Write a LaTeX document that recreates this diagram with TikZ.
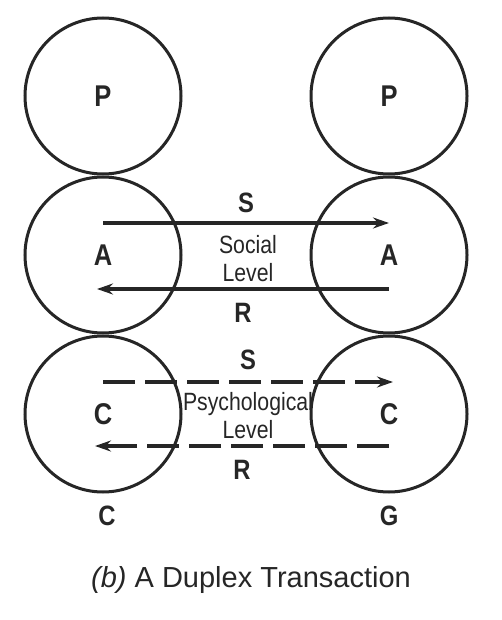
\documentclass[tikz,border=0pt]{standalone}
\usepackage{fontspec}
\setmainfont{Liberation Sans}
\newfontfamily\labfont[FakeStretch=0.85]{Liberation Sans}
\usetikzlibrary{arrows.meta, positioning, calc}
\definecolor{inkgray}{RGB}{38, 38, 38}
\tikzset{
  egonode/.style={circle, draw=inkgray, line width=1.5pt, minimum size=78pt, inner sep=0pt,
    text=inkgray, font=\labfont\fontsize{15}{17}\selectfont\bfseries},
  lvltext/.style={text=inkgray, align=center, font=\labfont\fontsize{12.5}{14}\selectfont},
  lettext/.style={text=inkgray, inner sep=1pt, font=\labfont\fontsize{14}{16}\selectfont\bfseries},
  sarrow/.style={-{Stealth[length=8pt, width=5.5pt]}, line width=2.4pt, draw=inkgray},
  darrow/.style={sarrow, dash pattern=on 16pt off 5pt},
}
\begin{document}
\begin{tikzpicture}[x=0.5pt, y=-0.5pt]
  \useasboundingbox (0,0) rectangle (502,620);
  % ego states of both people
  \node[egonode] (lp) at (103,96) {P};
  \node[egonode] (la) [below=0pt of lp] {A};
  \node[egonode] (lc) [below=0pt of la] {C};
  \node[egonode] (rp) at (389,96) {P};
  \node[egonode] (ra) [below=0pt of rp] {A};
  \node[egonode] (rc) [below=0pt of ra] {C};
  % social level
  \draw[sarrow] ([yshift=16pt]la.center) -- ([yshift=16pt]ra.center) node[lettext, midway, above=3pt] {S};
  \draw[sarrow] ([yshift=-17pt]ra.center) -- ([yshift=-17pt,xshift=-3pt]la.center) node[lettext, midway, below=5pt] {R};
  \node[lvltext] (soc) at (248,259) {Social\\Level};
  % psychological level
  \draw[darrow] ([yshift=16pt]lc.center) -- ([yshift=16pt,xshift=2pt]rc.center) node[lettext, midway, above=4pt] {S};
  \draw[darrow] ([yshift=-16pt]rc.center) -- ([yshift=-16pt,xshift=-4pt]lc.center) node[lettext, midway, below=5pt] {R};
  \node[lvltext] (psy) at (248,416) {Psychological\\Level};
  % who is who
  \node[lettext] (cl) [below=5pt of lc.south, xshift=2pt] {C};
  \node[lettext] (gl) [below=5pt of rc.south] {G};
  \node[text=inkgray, font=\fontsize{14.5}{16}\selectfont] (cap) at (251,580) {\textit{(b)} A Duplex Transaction};
\end{tikzpicture}
\end{document}
